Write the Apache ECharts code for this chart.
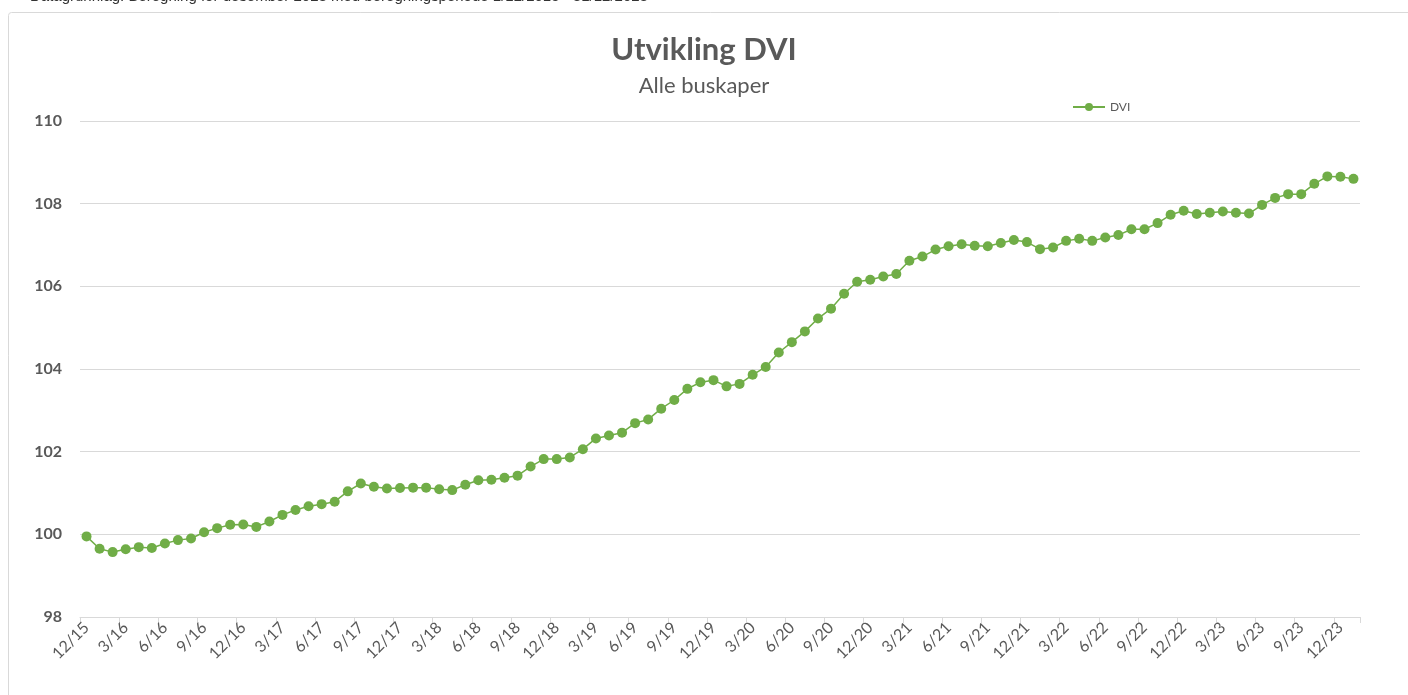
<!DOCTYPE html>
<html>
<head>
<meta charset="utf-8">
<script src="https://cdn.jsdelivr.net/npm/echarts@6/dist/echarts.min.js"></script>
<style>
  html, body { margin: 0; padding: 0; background: #fff; }
  #chart { width: 1408px; height: 695px; }
</style>
</head>
<body>
<div id="chart"></div>
<script>
// first month of the series and number of monthly points
const startMonth = 12
const startYear = 15
const pointCount = 98

const months = []
for (let i = 0; i < pointCount; i++) {
  const m = (startMonth - 1 + i) % 12 + 1
  const y = startYear + Math.floor((startMonth - 1 + i) / 12)
  months.push(m + '/' + y)
}

// DVI (index 100 = 12/15)
const dvi = [
  99.95, 99.65, 99.57, 99.64, 99.69, 99.67, 99.78, 99.86, 99.90, 100.05,
  100.15, 100.23, 100.24, 100.18, 100.31, 100.47, 100.59, 100.68, 100.73, 100.79,
  101.04, 101.23, 101.15, 101.11, 101.12, 101.13, 101.13, 101.09, 101.07, 101.20,
  101.31, 101.32, 101.37, 101.42, 101.64, 101.82, 101.82, 101.86, 102.06, 102.32,
  102.39, 102.46, 102.69, 102.78, 103.04, 103.25, 103.52, 103.68, 103.73, 103.58,
  103.64, 103.86, 104.05, 104.40, 104.65, 104.91, 105.22, 105.46, 105.82, 106.11,
  106.16, 106.24, 106.30, 106.62, 106.72, 106.89, 106.97, 107.02, 106.98, 106.97,
  107.05, 107.12, 107.07, 106.90, 106.94, 107.10, 107.15, 107.10, 107.18, 107.24,
  107.38, 107.38, 107.53, 107.73, 107.83, 107.75, 107.78, 107.81, 107.78, 107.76,
  107.97, 108.14, 108.23, 108.23, 108.48, 108.66, 108.65, 108.60
]

const yTicks = { min: 98, max: 110, interval: 2 }

const textColor = '#595959'
const gridColor = '#d9d9d9'
const green = '#70ad47'
const font = 'Lato, "Open Sans", sans-serif'

const chart = echarts.init(document.getElementById('chart'))
chart.setOption({
  animation: false,
  textStyle: { fontFamily: font },
  graphic: [
    {
      type: 'text',
      left: 30,
      top: -11,
      style: {
        text: 'Datagrunnlag: Beregning for desember 2023 med beregningsperiode 1/12/2015 - 31/12/2023',
        fontSize: 15,
        fontFamily: 'Arial, "Liberation Sans", sans-serif',
        fill: '#333'
      }
    },
    {
      type: 'rect',
      shape: { x: 8.5, y: 12.5, width: 1420, height: 720, r: 3 },
      style: { fill: 'none', stroke: gridColor, lineWidth: 1 },
      silent: true
    }
  ],
  title: {
    text: 'Utvikling DVI',
    subtext: 'Alle buskaper',
    left: 'center',
    top: 29,
    itemGap: 10,
    textStyle: { fontSize: 31, fontWeight: 'bold', color: textColor, fontFamily: font },
    subtextStyle: { fontSize: 22, color: textColor, fontFamily: font }
  },
  legend: {
    data: ['DVI'],
    left: 1067,
    top: 96,
    itemWidth: 32,
    itemHeight: 10,
    itemGap: 4,
    textStyle: { fontSize: 12, color: textColor, fontFamily: font }
  },
  grid: {
    left: 80,
    right: 48,
    top: 121,
    bottom: 78,
    containLabel: false
  },
  xAxis: {
    type: 'category',
    data: months,
    boundaryGap: true,
    axisLine: { lineStyle: { color: gridColor, width: 1 } },
    axisTick: {
      show: true,
      interval: 2,
      length: 6,
      lineStyle: { color: gridColor }
    },
    axisLabel: {
      interval: 2,
      rotate: 45,
      margin: 8,
      fontSize: 16,
      color: textColor,
      fontFamily: font
    },
    splitLine: { show: false }
  },
  yAxis: {
    type: 'value',
    min: yTicks.min,
    max: yTicks.max,
    interval: yTicks.interval,
    axisLine: { show: false },
    axisTick: { show: false },
    axisLabel: {
      fontSize: 16,
      fontWeight: 'bold',
      color: textColor,
      margin: 18,
      fontFamily: font
    },
    splitLine: { lineStyle: { color: gridColor, width: 1 } }
  },
  series: [
    {
      name: 'DVI',
      type: 'line',
      data: dvi,
      symbol: 'circle',
      symbolSize: 10,
      showAllSymbol: true,
      itemStyle: { color: green },
      lineStyle: { color: green, width: 1.5 }
    }
  ]
})
</script>
</body>
</html>
